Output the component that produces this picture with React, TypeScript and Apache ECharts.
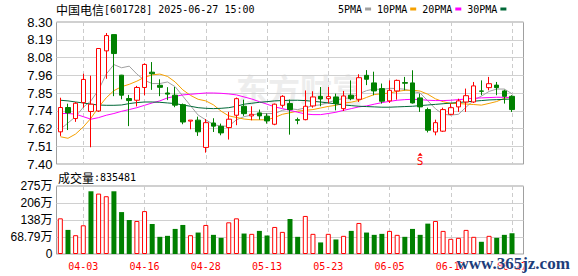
import React, { useEffect, useRef } from 'react';
import * as echarts from 'echarts';

const dates = ['03-31','04-01','04-02','04-03','04-07','04-08','04-09','04-10','04-11','04-14','04-15','04-16','04-17','04-18','04-21','04-22','04-23','04-24','04-25','04-28','04-29','04-30','05-06','05-07','05-08','05-09','05-12','05-13','05-14','05-15','05-16','05-19','05-20','05-21','05-22','05-23','05-26','05-27','05-28','05-29','05-30','06-03','06-04','06-05','06-06','06-09','06-10','06-11','06-12','06-13','06-16','06-17','06-18','06-19','06-20','06-23','06-24','06-25','06-26','06-27'];

const opens = [7.604,7.758,7.688,7.789,7.733,7.736,8.117,8.22,7.963,7.815,7.804,7.885,7.982,7.899,7.85,7.836,7.776,7.672,7.678,7.505,7.66,7.639,7.631,7.709,7.766,7.705,7.724,7.703,7.652,7.772,7.783,7.681,7.681,7.768,7.829,7.814,7.825,7.751,7.836,7.81,7.962,7.914,7.878,7.8,7.863,7.916,7.914,7.819,7.745,7.603,7.608,7.715,7.762,7.793,7.793,7.863,7.884,7.9,7.863,7.829];
const closes = [7.758,7.724,7.785,7.936,7.779,8.132,8.214,8.1,7.836,7.802,7.885,8.031,7.972,7.886,7.843,7.773,7.666,7.678,7.604,7.662,7.64,7.597,7.684,7.814,7.719,7.715,7.705,7.673,7.779,7.829,7.745,7.677,7.766,7.825,7.812,7.827,7.783,7.831,7.814,7.947,7.937,7.863,7.798,7.867,7.93,7.912,7.787,7.762,7.614,7.662,7.745,7.757,7.8,7.833,7.895,7.861,7.909,7.884,7.829,7.745];
const lows = [7.578,7.615,7.667,7.757,7.506,7.73,7.94,7.83,7.81,7.64,7.765,7.836,7.87,7.83,7.805,7.76,7.652,7.62,7.578,7.472,7.603,7.582,7.555,7.646,7.705,7.677,7.681,7.656,7.646,7.757,7.586,7.652,7.677,7.757,7.766,7.783,7.74,7.736,7.804,7.793,7.9,7.836,7.783,7.787,7.808,7.867,7.783,7.73,7.6,7.582,7.603,7.709,7.73,7.73,7.787,7.836,7.867,7.836,7.783,7.73];
const highs = [7.82,7.782,7.793,7.972,7.96,8.135,8.23,8.22,7.965,7.838,7.895,8.038,8.046,7.937,7.887,7.888,7.783,7.678,7.7,7.685,7.69,7.656,7.73,7.821,7.808,7.766,7.745,7.72,7.783,7.836,7.808,7.694,7.866,7.861,7.888,7.888,7.846,7.863,7.93,7.969,7.995,7.985,7.91,7.93,7.935,7.952,7.994,7.846,7.757,7.681,7.757,7.783,7.814,7.878,7.92,7.93,7.952,7.92,7.871,7.836];

const volumes = [1443000,975000,761000,1162000,2538000,2444000,2338000,2538000,1696000,1376000,1336000,1736000,1215000,695000,735000,1015000,1175000,761000,868000,1175000,775000,654000,1282000,1443000,828000,815000,935000,748000,1095000,895000,1416000,695000,1540000,815000,468000,815000,588000,735000,935000,1256000,868000,775000,815000,935000,775000,695000,1015000,775000,1229000,1336000,935000,614000,654000,975000,695000,494000,735000,654000,775000,835481];
const volumeUp = [1,0,1,1,0,1,1,0,0,0,1,1,0,0,0,0,0,1,0,1,0,0,1,1,0,1,0,0,1,1,0,0,1,1,0,1,0,1,0,1,0,0,0,1,1,0,0,0,0,1,1,1,1,1,1,0,1,0,0,0];

const ma5 = [7.62,7.66,7.7,7.76,7.8,7.87,7.97,8.03,8.01,8.02,7.97,7.93,7.91,7.91,7.92,7.89,7.83,7.77,7.71,7.68,7.65,7.64,7.64,7.68,7.7,7.71,7.72,7.72,7.72,7.74,7.75,7.745,7.755,7.77,7.775,7.79,7.805,7.815,7.82,7.845,7.865,7.875,7.872,7.88,7.878,7.874,7.86,7.85,7.8,7.75,7.715,7.71,7.715,7.76,7.805,7.83,7.86,7.875,7.875,7.845];
const ma10 = [7.573,7.563,7.59,7.635,7.69,7.76,7.82,7.865,7.89,7.905,7.925,7.95,7.965,7.97,7.955,7.92,7.87,7.835,7.81,7.8,7.775,7.735,7.705,7.695,7.685,7.68,7.68,7.68,7.695,7.715,7.725,7.735,7.74,7.745,7.755,7.765,7.772,7.786,7.792,7.803,7.822,7.84,7.845,7.85,7.86,7.867,7.868,7.862,7.842,7.813,7.795,7.784,7.783,7.78,7.777,7.773,7.784,7.796,7.817,7.826];
const ma20 = [7.72,7.72,7.716,7.7,7.684,7.694,7.709,7.72,7.734,7.745,7.757,7.772,7.787,7.8,7.819,7.829,7.838,7.842,7.846,7.85,7.85,7.848,7.844,7.838,7.825,7.812,7.795,7.779,7.762,7.751,7.74,7.728,7.717,7.713,7.713,7.72,7.728,7.74,7.751,7.762,7.768,7.779,7.789,7.797,7.804,7.808,7.81,7.808,7.804,7.802,7.802,7.804,7.808,7.812,7.817,7.819,7.821,7.823,7.823,7.821];
const ma30 = [7.804,7.8,7.793,7.787,7.779,7.774,7.772,7.772,7.774,7.783,7.789,7.793,7.793,7.791,7.787,7.783,7.774,7.766,7.757,7.753,7.751,7.753,7.757,7.766,7.779,7.785,7.791,7.795,7.8,7.802,7.804,7.804,7.802,7.797,7.793,7.787,7.781,7.774,7.77,7.766,7.764,7.762,7.76,7.76,7.762,7.764,7.766,7.77,7.774,7.778,7.782,7.786,7.79,7.794,7.798,7.802,7.806,7.808,7.81,7.812];

const labelDates = ['04-03','04-16','04-28','05-13','05-23','06-05','06-17','06-27'];
const priceTickLabels = ['7.40','7.51','7.62','7.74','7.85','7.96','8.08','8.19','8.30'];
const volumeTickLabels = ['0','68.79万','138万','206万','275万'];
const priceMin = 7.4;
const priceMax = 8.3;
const volumeStep = 687900;
const markerDate = '06-11';
const markerPrice = 7.462;

const RED = '#ff0000';
const GREEN = '#008000';
const MONO = 'DejaVu Sans Mono';
const CJK = 'Noto Sans CJK SC';

export default function App() {
  const ref = useRef<HTMLDivElement>(null);
  useEffect(() => {
    if (!ref.current) return;
    const chart = echarts.init(ref.current, undefined, { renderer: 'svg' });
    const cats = [...dates, ''];
    const showIdx = (_i: number, v: string) => labelDates.includes(v);
    const gridLeft = 56.5;
    const gridWidth = 467;
    const dashed = { color: '#cccccc', type: [4, 3] as any, width: 1 };
    const solid = { color: '#d0d0d0', width: 1 };
    const candleData = dates.map((_, i) => [opens[i], closes[i], lows[i], highs[i]]);
    const volData = volumes.map((v, i) => ({
      value: v,
      itemStyle: volumeUp[i]
        ? { color: '#ffffff', borderColor: RED, borderWidth: 1 }
        : { color: GREEN, borderColor: GREEN, borderWidth: 0 },
    }));
    const maLine = (name: string, data: number[], color: string) => ({
      name,
      type: 'line',
      xAxisIndex: 0,
      yAxisIndex: 0,
      data,
      color,
      symbol: 'none',
      showSymbol: false,
      lineStyle: { color, width: 1 },
      itemStyle: { color },
      z: 3,
    });
    const richTitle = {
      a: { fontFamily: CJK, fontSize: 12, color: '#000', fontWeight: 'normal' },
      b: { fontFamily: MONO, fontSize: 10, color: '#000', fontWeight: 'normal' },
    };

    chart.setOption({
      animation: false,
      backgroundColor: '#ffffff',
      textStyle: { fontFamily: 'Liberation Sans' },
      title: [
        {
          left: 56,
          top: 3,
          padding: 0,
          text: '{a|中国电信}{b|[601728] 2025-06-27 15:00}',
          textStyle: { fontWeight: 'normal', rich: richTitle },
        },
        {
          left: 58,
          top: 171,
          padding: 0,
          text: '{a|成交量}{b|:835481}',
          textStyle: { fontWeight: 'normal', rich: richTitle },
        },
      ],
      legend: {
        data: ['5PMA', '10PMA', '20PMA', '30PMA'],
        left: 338,
        top: 4,
        padding: 0,
        align: 'right',
        icon: 'rect',
        itemWidth: 6,
        itemHeight: 3,
        itemGap: 6,
        selectedMode: false,
        textStyle: { fontFamily: MONO, fontSize: 10, color: '#000', padding: [0, -2, 0, 0] },
      },
      graphic: [
        {
          type: 'text',
          left: 236,
          top: 72,
          z: 0,
          silent: true,
          style: { text: '东方财富', fontFamily: CJK, fontSize: 32, fontWeight: 'bold', fill: '#ededed' },
        },
        {
          type: 'text',
          left: 456,
          top: 254,
          z: 100,
          silent: true,
          style: {
            text: 'www.365jz.com',
            fontFamily: 'Liberation Serif',
            fontSize: 17,
            fontWeight: 'bold',
            fill: '#1d3d7a',
            stroke: '#ffffff',
            lineWidth: 1,
          },
        },
      ],
      grid: [
        { left: gridLeft, top: 22, width: gridWidth, height: 142, show: true, borderColor: '#a0a0a0', borderWidth: 1, backgroundColor: 'transparent' },
        { left: gridLeft, top: 186, width: gridWidth, height: 68, show: true, borderColor: '#a0a0a0', borderWidth: 1, backgroundColor: 'transparent' },
      ],
      xAxis: [
        {
          type: 'category',
          gridIndex: 0,
          data: cats,
          boundaryGap: true,
          axisLine: { show: false },
          axisTick: { show: false },
          axisLabel: { show: false },
          splitLine: { show: true, interval: showIdx, alignWithLabel: true, lineStyle: dashed },
        },
        {
          type: 'category',
          gridIndex: 1,
          data: cats,
          boundaryGap: true,
          axisLine: { show: false },
          axisTick: { show: false },
          axisLabel: { show: true, interval: showIdx, color: RED, fontFamily: MONO, fontSize: 10, margin: 7 },
          splitLine: { show: true, interval: showIdx, alignWithLabel: true, lineStyle: dashed },
        },
      ],
      yAxis: [
        {
          type: 'value',
          gridIndex: 0,
          min: priceMin,
          max: priceMax,
          axisLine: { show: false },
          axisTick: { show: false },
          axisLabel: { show: false },
          splitLine: { show: false },
        },
        {
          type: 'value',
          gridIndex: 0,
          position: 'left',
          min: 0,
          max: priceTickLabels.length - 1,
          interval: 1,
          axisLine: { show: false },
          axisTick: { show: false },
          axisLabel: {
            formatter: (v: number) => priceTickLabels[Math.round(v)] ?? '',
            fontSize: 13,
            fontFamily: 'Liberation Sans',
            color: '#000',
            margin: 4,
          },
          splitLine: { show: true, lineStyle: solid },
        },
        {
          type: 'value',
          gridIndex: 1,
          min: 0,
          max: volumeStep * (volumeTickLabels.length - 1),
          interval: volumeStep,
          axisLine: { show: false },
          axisTick: { show: false },
          axisLabel: {
            formatter: (v: number) => volumeTickLabels[Math.round(v / volumeStep)] ?? '',
            fontSize: 12,
            fontFamily: 'Liberation Sans, Noto Sans CJK SC',
            color: '#000',
            margin: 4,
          },
          splitLine: { show: true, lineStyle: solid },
        },
      ],
      series: [
        {
          name: 'K',
          type: 'candlestick',
          xAxisIndex: 0,
          yAxisIndex: 0,
          data: candleData,
          barWidth: 5,
          itemStyle: {
            color: '#ffffff',
            color0: GREEN,
            borderColor: RED,
            borderColor0: GREEN,
            borderWidth: 1,
          },
          z: 4,
          markPoint: {
            silent: true,
            symbol: 'triangle',
            symbolSize: [5, 3],
            itemStyle: { color: RED },
            label: {
              show: true,
              position: 'bottom',
              distance: 0,
              formatter: 'S',
              color: RED,
              fontFamily: MONO,
              fontSize: 11,
            },
            data: [{ coord: [markerDate, markerPrice] }],
          },
        },
        maLine('5PMA', ma5, '#a0a0a0'),
        maLine('10PMA', ma10, '#f5a000'),
        maLine('20PMA', ma20, '#ff00ff'),
        maLine('30PMA', ma30, '#006837'),
        {
          name: 'VOL',
          type: 'bar',
          xAxisIndex: 1,
          yAxisIndex: 2,
          data: volData,
          barWidth: 5,
          z: 4,
        },
      ],
    });
    return () => chart.dispose();
  }, []);
  return (
    <div
      ref={ref}
      style={{ position: 'absolute', left: 0, top: 0, width: 578, height: 276, background: '#fff' }}
    />
  );
}
